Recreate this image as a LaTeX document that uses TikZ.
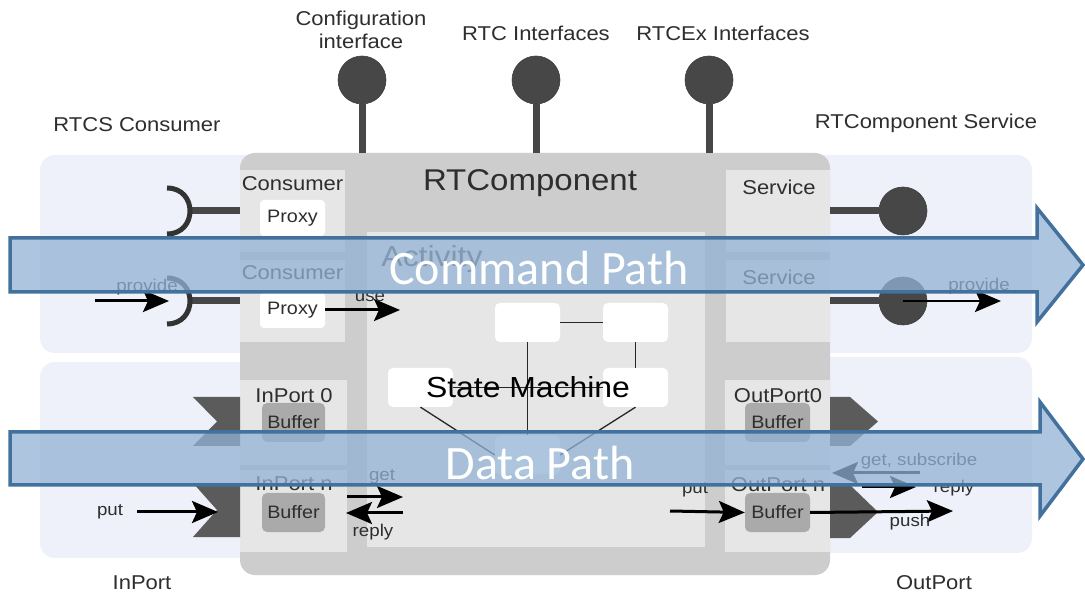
\documentclass[tikz,border=0pt]{standalone}
\usepackage{fontspec}
\setmainfont{Liberation Sans}[FakeStretch=1.1]
\newfontfamily\calib{Carlito}
\usetikzlibrary{arrows.meta}
\definecolor{panel}{HTML}{EEF1F9}
\definecolor{compgray}{HTML}{CDCDCD}
\definecolor{subgray}{HTML}{E6E6E6}
\definecolor{bufgray}{HTML}{AAAAAA}
\definecolor{darkball}{HTML}{474747}
\definecolor{flagc}{HTML}{5B5B5B}
\definecolor{pathfill}{RGB}{146,178,212}
\definecolor{pathedge}{HTML}{41719C}
\definecolor{txt}{HTML}{2E2E2E}
\newcommand\fbig{\fontsize{20}{23}\selectfont}
\newcommand\fsm{\fontsize{17}{19}\selectfont}
\newcommand\fbuf{\fontsize{18}{20}\selectfont}
\begin{document}
\begin{tikzpicture}[x=1pt,y=-1pt,
  lbl/.style={font=\fbig, text=txt, inner sep=0pt, align=center},
  small/.style={font=\fsm, text=txt, inner sep=0pt},
  panelbox/.style={fill=panel, rounded corners=15pt, inner sep=0pt},
  subbox/.style={fill=subgray, inner sep=0pt},
  proxybox/.style={fill=white, rounded corners=4pt, inner sep=0pt, minimum width=65pt, minimum height=36pt, font=\fbuf, text=txt},
  bufbox/.style={fill=bufgray, rounded corners=5pt, inner sep=0pt, minimum height=39pt, font=\fbuf, text=txt},
  stnode/.style={fill=white, rounded corners=5pt, inner sep=0pt, minimum width=65pt, minimum height=39pt},
  ball/.style={circle, fill=darkball, draw=black!75, line width=0.6pt, minimum size=48pt, inner sep=0pt},
  stick/.style={line width=7pt, draw=darkball},
  sock/.style={line width=5pt, draw=black!80},
  arr/.style={line width=3pt, -{Stealth[length=26pt,width=22pt,inset=5pt]}},
  flag/.style={fill=flagc},
  smline/.style={line width=1.3pt, draw=black!85},
  pathshape/.style={fill=pathfill, fill opacity=0.75, draw=pathedge, line width=3.5pt, line join=miter},
  pathtext/.style={font=\calib\fontsize{48}{50}\selectfont, text=white, inner sep=0pt}
]
\fill[white] (0,0) rectangle (1085,593);
\useasboundingbox (0,0) rectangle (1085,593);

% side panels
\node[panelbox, minimum width=220pt, minimum height=198pt] (lp1) at (150,254) {};
\node[panelbox, minimum width=220pt, minimum height=196pt] (lp2) at (150,460) {};
\node[panelbox, minimum width=222pt, minimum height=198pt] (rp1) at (921,254) {};
\node[panelbox, minimum width=222pt, minimum height=196pt] (rp2) at (921,455) {};

% main component
\node[fill=compgray, rounded corners=15pt, inner sep=0pt, minimum width=590pt, minimum height=422pt] (comp) at (535,364) {};

% left / right columns
\node[subbox, minimum width=105pt, minimum height=82pt] (cons1) at (292.5,211) {};
\node[subbox, minimum width=105pt, minimum height=82pt] (cons2) at (292.5,301) {};
\node[subbox, minimum width=104pt, minimum height=82pt] (serv1) at (778,211) {};
\node[subbox, minimum width=104pt, minimum height=82pt] (serv2) at (778,301) {};
\node[subbox, minimum width=107pt, minimum height=85pt] (inp0) at (293.5,422.5) {};
\node[subbox, minimum width=107pt, minimum height=82pt] (inpn) at (293.5,511) {};
\node[subbox, minimum width=105pt, minimum height=85pt] (outp0) at (777.5,422.5) {};
\node[subbox, minimum width=105pt, minimum height=82pt] (outpn) at (777.5,511) {};

% activity
\node[subbox, minimum width=338pt, minimum height=315pt] (act) at (536,389.5) {};

% proxies and buffers
\node[proxybox] (prx1) at (292.5,218) {Proxy};
\node[proxybox] (prx2) at (292.5,310) {Proxy};
\node[bufbox, minimum width=63pt] (ib0) at (293.5,422.5) {Buffer};
\node[bufbox, minimum width=63pt] (ibn) at (293.5,512.5) {Buffer};
\node[bufbox, minimum width=65pt] (ob0) at (777.5,422.5) {Buffer};
\node[bufbox, minimum width=65pt] (obn) at (777.5,512.5) {Buffer};

% state machine
\node[stnode] (s1) at (527.5,322.5) {};
\node[stnode] (s2) at (635.5,322.5) {};
\node[stnode] (s3) at (420.5,387.5) {};
\node[stnode] (s4) at (635.5,387.5) {};
\node[stnode] (s5) at (527.5,455) {};
\draw[smline] (s1.east) -- (s2.west);
\draw[smline] (s1.south) -- (s5.north);
\draw[smline] (s2.south) -- (s4.north);
\draw[smline] (s3.east) -- (s4.west);
\draw[smline] (s3.south) -- (s5.west);
\draw[smline] (s4.south) -- (s5.east);

% port flags
\fill[flag] (193,397) -- (240,397) -- (240,446) -- (193,446) -- (217,421.5) -- cycle;
\fill[flag] (193,483) -- (240,483) -- (240,537) -- (193,537) -- (217,510) -- cycle;
\fill[flag] (830,397) -- (850,397) -- (878,421.5) -- (850,446) -- (830,446) -- cycle;
\fill[flag] (830,485) -- (850,485) -- (878,512) -- (850,538) -- (830,538) -- cycle;

% top lollipops
\node[ball] (cfg) at (362,80) {};
\node[ball] (rtc) at (536,80) {};
\node[ball] (rtcex) at (709,80) {};
\coordinate (cfgb) at (362,153);
\coordinate (rtcb) at (536,153);
\coordinate (rtcexb) at (709,153);
\draw[stick] (cfg.south) -- (cfgb);
\draw[stick] (rtc.south) -- (rtcb);
\draw[stick] (rtcex.south) -- (rtcexb);

% right lollipops
\coordinate (sv1) at (830,211);
\coordinate (sv2) at (830,301);
\node[ball] (svb1) at (903,211) {};
\node[ball] (svb2) at (903,301) {};
\draw[stick] (sv1) -- (svb1.west);
\draw[stick] (sv2) -- (svb2.west);

% left sockets
\coordinate (sk1) at (190,211);
\coordinate (sk2) at (190,301);
\coordinate (cs1) at (240,211);
\coordinate (cs2) at (240,301);
\draw[stick] (sk1) -- (cs1);
\draw[stick] (sk2) -- (cs2);
\draw[sock] (167,188) .. controls (197.7,188) and (197.7,234) .. (167,234);
\draw[sock] (167,278) .. controls (197.7,278) and (197.7,324) .. (167,324);

% texts
\node[lbl] (tcfg) at (361,30) {Configuration\\interface};
\node[lbl] (trtc) at (536,33) {RTC Interfaces};
\node[lbl] (trtcex) at (723,33) {RTCEx Interfaces};
\node[lbl] (trcs) at (137,125) {RTCS Consumer};
\node[lbl] (trcsv) at (926,123) {RTComponent Service};
\node[lbl] (tinp) at (142,583) {InPort};
\node[lbl] (toutp) at (934,583) {OutPort};
\node[lbl, font=\fontsize{30}{32}\selectfont] (tcomp) at (530,183) {RTComponent};
\node[lbl] (tcons1) at (292.5,184) {Consumer};
\node[lbl] (tcons2) at (292.5,273) {Consumer};
\node[lbl] (tserv1) at (779,187) {Service};
\node[lbl] (tserv2) at (779,277) {Service};
\node[lbl, font=\fontsize{29}{31}\selectfont, text=black!70] (tact) at (432,259) {Activity};
\node[lbl, font=\fontsize{29}{31}\selectfont, text=black] (tsm) at (528,387) {State Machine};
\node[lbl] (tin0) at (294,396) {InPort 0};
\node[lbl] (tinn) at (294,484) {InPort n};
\node[lbl] (tout0) at (778,396) {OutPort0};
\node[lbl] (toutn) at (778,485) {OutPort n};

% arrows and their labels
\coordinate (pvl) at (95,301);
\coordinate (pvlt) at (169,301);
\draw[arr] (pvl) -- (pvlt);
\node[small] (lpvl) at (147,287) {provide};
\coordinate (uset) at (400,310);
\draw[arr] (prx2.east) -- (uset);
\node[small] (lusel) at (370,297) {use};
\coordinate (putl) at (137,512);
\coordinate (putlt) at (218,512);
\draw[arr] (putl) -- (putlt);
\node[small] (lputl) at (110,512) {put};
\coordinate (geta) at (347,497);
\coordinate (getb) at (403,497);
\draw[arr] (geta) -- (getb);
\coordinate (repa) at (403,513);
\coordinate (repb) at (346,513);
\draw[arr] (repa) -- (repb);
\node[small] (lget) at (382,477) {get};
\node[small] (lrep) at (373,532) {reply};
\coordinate (putr) at (670,511);
\draw[arr] (putr) -- (obn.west);
\node[small] (lputr) at (695,490) {put};
\coordinate (pusht) at (953,511);
\draw[arr] (obn.east) -- (pusht);
\node[small] (lpush) at (910,522) {push};
\coordinate (gsa) at (920,473);
\coordinate (gsb) at (832,473);
\draw[arr] (gsa) -- (gsb);
\node[small] (lgs) at (919,461) {get, subscribe};
\coordinate (rra) at (862,487);
\coordinate (rrb) at (916,487);
\draw[arr] (rra) -- (rrb);
\node[small] (lrr) at (954,488) {reply};
\coordinate (pvrt) at (1001,301);
\draw[arr, line width=2.5pt] (svb2.center) -- (pvrt);
\node[small] (lpvr) at (979,286) {provide};

% overlay paths
\draw[pathshape] (10,238) -- (1037,238) -- (1037,208) -- (1083,265) -- (1037,322) -- (1037,292) -- (10,292) -- cycle;
\draw[pathshape] (10,432) -- (1040,432) -- (1040,402) -- (1083,459) -- (1040,516) -- (1040,485) -- (10,485) -- cycle;
\node[pathtext] (cmd) at (539,268) {Command Path};
\node[pathtext] (data) at (540,463) {Data Path};
\end{tikzpicture}
\end{document}
